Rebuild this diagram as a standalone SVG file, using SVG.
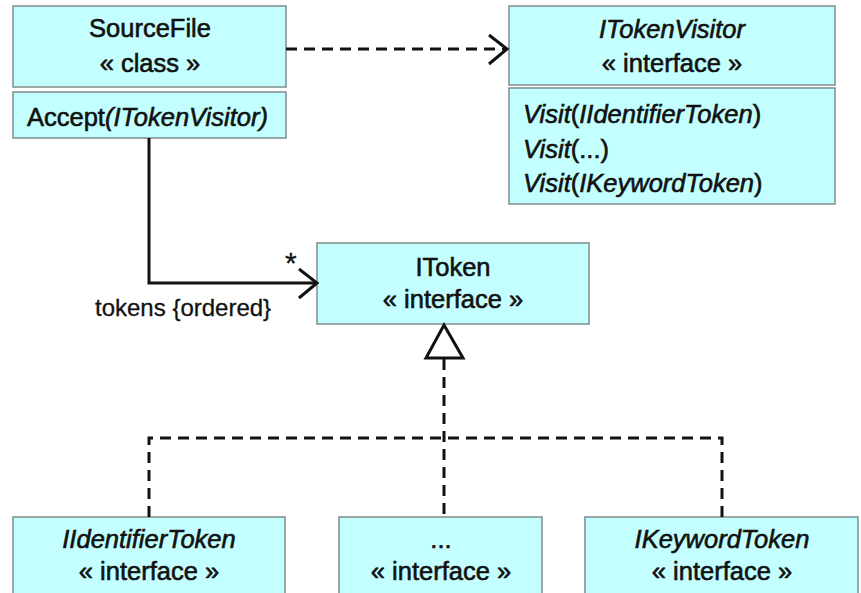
<svg xmlns="http://www.w3.org/2000/svg" width="861" height="593" viewBox="0 0 861 593">
<style>
.box{fill:#c4ffff;stroke:#7f8c8c;stroke-width:1.5}
.t{font-family:"Liberation Sans",Arial,sans-serif;font-size:25.5px;fill:#111;stroke:#111;stroke-width:0.6}
.c{text-anchor:middle}
.i{font-style:italic}
.lbl{font-family:"Liberation Sans",Arial,sans-serif;font-size:24px;fill:#111;stroke:#111;stroke-width:0.3}
.ln{fill:none;stroke:#111;stroke-width:3}
.dash{stroke-dasharray:11 7}
</style>
<rect width="861" height="593" fill="#ffffff"/>
<g id="SourceFile">
<rect class="box" x="13" y="6" width="273" height="81"/>
<rect class="box" x="13" y="92" width="273" height="46"/>
<text class="t c" x="150" y="37">SourceFile</text>
<text class="t c" x="150" y="72">« class »</text>
<text class="t" x="27" y="126">Accept<tspan class="i">(ITokenVisitor)</tspan></text>
</g>
<g id="ITokenVisitor">
<rect class="box" x="509" y="6" width="326" height="79"/>
<rect class="box" x="509" y="88" width="326" height="116"/>
<text class="t c i" x="672" y="38">ITokenVisitor</text>
<text class="t c" x="672" y="72">« interface »</text>
<text class="t" x="523" y="123"><tspan class="i">Visit</tspan>(<tspan class="i">IIdentifierToken</tspan>)</text>
<text class="t" x="523" y="158"><tspan class="i">Visit</tspan>(...)</text>
<text class="t" x="523" y="192"><tspan class="i">Visit</tspan>(<tspan class="i">IKeywordToken</tspan>)</text>
</g>
<g id="IToken">
<rect class="box" x="317" y="243" width="272" height="81"/>
<text class="t c" x="453" y="276">IToken</text>
<text class="t c" x="453" y="308">« interface »</text>
</g>
<g id="IIdentifierToken">
<rect class="box" x="13" y="517" width="272" height="90"/>
<text class="t c i" x="149" y="548">IIdentifierToken</text>
<text class="t c" x="149" y="580">« interface »</text>
</g>
<g id="Ellipsis">
<rect class="box" x="339" y="517" width="203" height="90"/>
<text class="t c" x="441" y="548">...</text>
<text class="t c" x="441" y="580">« interface »</text>
</g>
<g id="IKeywordToken">
<rect class="box" x="585" y="517" width="273" height="90"/>
<text class="t c i" x="722" y="548">IKeywordToken</text>
<text class="t c" x="722" y="580">« interface »</text>
</g>
<g id="connectors">
<path class="ln dash" d="M286 49 H506"/>
<path class="ln" d="M489 35 L507 49 L489 64"/>
<path class="ln" d="M149 138 V283 H316"/>
<path class="ln" d="M299 269 L317 283 L299 298"/>
<text class="lbl" x="285" y="273" style="font-size:30px">*</text>
<text class="lbl" x="95" y="316">tokens {ordered}</text>
<path d="M444 325 L463 358 L426 358 Z" fill="#ffffff" stroke="#111" stroke-width="3" stroke-linejoin="miter"/>
<path class="ln dash" d="M444 359 V517"/>
<path class="ln dash" d="M149 517 V438 H722 V517"/>
</g>
</svg>
